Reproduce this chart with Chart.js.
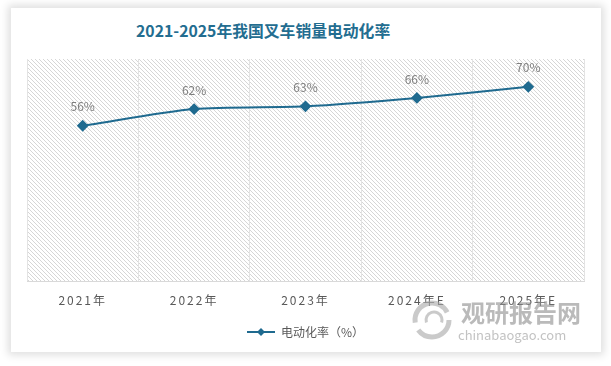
<!DOCTYPE html>
<html>
<head>
<meta charset="utf-8">
<script src="https://cdn.jsdelivr.net/npm/chart.js@4.4.1/dist/chart.umd.min.js"></script>
<style>
  html, body { margin: 0; padding: 0; background: #fff; }
  #wrap { position: relative; width: 611px; height: 366px; overflow: hidden; }
  #card { position: absolute; left: 11px; top: 8px; width: 590px; height: 344px; background: #fff;
          box-shadow: 0 0 8px 3px rgba(0,0,0,0.13); }
  #title { position: absolute; left: 136px; top: 19px; font: bold 15.8px "Noto Sans CJK SC", sans-serif;
           color: #236d90; white-space: nowrap; }
  canvas { position: absolute; left: 0; top: 0; }
</style>
</head>
<body>
<div id="wrap">
  <div id="card"></div>
  <div id="title">2021-2025年我国叉车销量电动化率</div>
  <canvas id="chart" width="611" height="366"></canvas>
</div>
<script>
const years = ['2021年', '2022年', '2023年', '2024年E', '2025年E'];
const rates = [56, 62, 63, 66, 70];
const seriesName = '电动化率（%）';
const lineColor = '#1f6a8f';
const fontFamily = '"Noto Sans CJK SC", "Noto Sans", sans-serif';

// diagonal hatch for the plot background
function makeHatch() {
    const c = document.createElement('canvas');
    c.width = 8; c.height = 8;
    const g = c.getContext('2d');
    g.strokeStyle = '#d6d6d6';
    g.lineWidth = 1;
    for (let k = -8; k <= 8; k += 4) {
        g.beginPath();
        g.moveTo(k, 0);
        g.lineTo(k + 8, 8);
        g.stroke();
    }
    return c;
}

// legend symbol: short line with a diamond in the middle
function makeLegendSymbol() {
    const c = document.createElement('canvas');
    c.width = 28; c.height = 10;
    const g = c.getContext('2d');
    g.strokeStyle = lineColor;
    g.lineWidth = 2;
    g.beginPath(); g.moveTo(0, 5); g.lineTo(28, 5); g.stroke();
    g.fillStyle = lineColor;
    g.beginPath(); g.moveTo(14, 1); g.lineTo(18, 5); g.lineTo(14, 9); g.lineTo(10, 5); g.closePath(); g.fill();
    return c;
}

const hatchPlugin = {
    id: 'hatch',
    beforeDraw(chart) {
        const { ctx, chartArea: a } = chart;
        ctx.save();
        ctx.fillStyle = ctx.createPattern(makeHatch(), 'repeat');
        ctx.fillRect(a.left, a.top, a.right - a.left, a.bottom - a.top);
        ctx.restore();
    }
};

// spaced-out x labels
const spacedTicks = {
    id: 'spacedTicks',
    afterLayout(chart) {
        const sc = chart.scales.x;
        if (sc._spaced) return;
        const orig = sc.drawLabels;
        sc.drawLabels = function (ca) {
            chart.ctx.save();
            chart.ctx.letterSpacing = '2px';
            orig.call(this, ca);
            chart.ctx.restore();
        };
        sc._spaced = true;
    }
};

const valueLabels = {
    id: 'valueLabels',
    afterDatasetsDraw(chart) {
        const { ctx } = chart;
        const meta = chart.getDatasetMeta(0);
        ctx.save();
        ctx.font = '12px ' + fontFamily;
        ctx.fillStyle = '#7f7f7f';
        ctx.textAlign = 'center';
        ctx.textBaseline = 'middle';
        meta.data.forEach((pt, i) => {
            ctx.fillText(rates[i] + '%', pt.x, pt.y - 19);
        });
        ctx.restore();
    }
};

const watermark = {
    id: 'watermark',
    afterDraw(chart) {
        const { ctx } = chart;
        ctx.save();
        ctx.globalAlpha = 0.6;
        ctx.strokeStyle = '#a6a6a6';
        ctx.lineWidth = 5;
        ctx.beginPath(); ctx.arc(432, 320, 17, Math.PI * 0.95, Math.PI * 1.85); ctx.stroke();
        ctx.beginPath(); ctx.arc(432, 320, 17, Math.PI * 0.0, Math.PI * 0.8); ctx.stroke();
        ctx.lineWidth = 3;
        ctx.beginPath(); ctx.arc(434, 320, 8, Math.PI * 0.9, Math.PI * 2.1); ctx.stroke();
        ctx.fillStyle = '#8c8c8c';
        ctx.font = 'bold 24px ' + fontFamily;
        ctx.textBaseline = 'middle';
        ctx.fillText('观研报告网', 461, 313);
        ctx.font = '13px ' + fontFamily;
        ctx.fillStyle = '#9a9a9a';
        ctx.fillText('chinabaogao.com', 458, 335);
        ctx.restore();
    }
};

const chartData = {
    labels: years,
    datasets: [{
        label: seriesName,
        data: rates,
        borderColor: lineColor,
        backgroundColor: lineColor,
        borderWidth: 2,
        tension: 0.25,
        pointStyle: 'rectRot',
        pointRadius: 4.5,
        pointBackgroundColor: lineColor,
        pointBorderColor: lineColor
    }]
};

const config = {
    type: 'line',
    data: chartData,
    options: {
        responsive: false,
        animation: false,
        layout: { padding: { left: 27, right: 27, top: 59, bottom: 18 } },
        plugins: {
            title: { display: false },
            tooltip: { enabled: false },
            legend: {
                position: 'bottom',
                labels: {
                    usePointStyle: true,
                    pointStyle: makeLegendSymbol(),
                    pointStyleWidth: 28,
                    boxHeight: 10,
                    color: '#595959',
                    font: { family: fontFamily, size: 12 },
                    padding: 6
                }
            }
        },
        scales: {
            x: {
                offset: true,
                grid: { offset: true, color: '#e3e3e3', drawTicks: false },
                border: { color: '#d9d9d9', width: 1 },
                ticks: { color: '#595959', font: { family: fontFamily, size: 12 }, padding: 12 }
            },
            y: {
                display: false,
                min: 0,
                max: 80
            }
        }
    },
    plugins: [hatchPlugin, spacedTicks, valueLabels, watermark]
};

var chart = new Chart(document.getElementById('chart'), config);
</script>
</body>
</html>
